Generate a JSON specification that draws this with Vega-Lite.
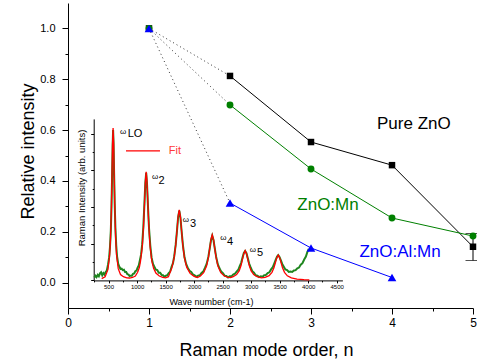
{
  "$schema": "https://vega.github.io/schema/vega-lite/v6.json",
  "width": 405,
  "height": 305,
  "autosize": {"type": "none"},
  "padding": {"left": 68, "top": 3, "right": 4, "bottom": 56},
  "config": {
    "font": "Liberation Sans",
    "view": {"stroke": null},
    "axis": {"grid": false, "domainColor": "#000", "tickColor": "#000", "labelColor": "#000", "titleColor": "#000", "titleFontWeight": "normal", "labelFlush": false, "labelOverlap": false, "domainWidth": 1, "tickWidth": 1},
    "legend": {"disable": true}
  },
  "datasets": {
    "points": [
      {"series": "Pure ZnO", "n": 1, "v": 1.0},
      {"series": "Pure ZnO", "n": 2, "v": 0.813},
      {"series": "Pure ZnO", "n": 3, "v": 0.553},
      {"series": "Pure ZnO", "n": 4, "v": 0.462},
      {"series": "Pure ZnO", "n": 5, "v": 0.141},
      {"series": "ZnO:Mn", "n": 1, "v": 1.0},
      {"series": "ZnO:Mn", "n": 2, "v": 0.699},
      {"series": "ZnO:Mn", "n": 3, "v": 0.447},
      {"series": "ZnO:Mn", "n": 4, "v": 0.254},
      {"series": "ZnO:Mn", "n": 5, "v": 0.183},
      {"series": "ZnO:Al:Mn", "n": 1, "v": 1.0},
      {"series": "ZnO:Al:Mn", "n": 2, "v": 0.313},
      {"series": "ZnO:Al:Mn", "n": 3, "v": 0.136},
      {"series": "ZnO:Al:Mn", "n": 4, "v": 0.02}
    ],
    "errbar": [{"n": 5, "v": 0.087, "v2": 0.193}],
    "labels": [
      {"label": "Pure ZnO", "series": "Pure ZnO", "n": 4.27, "v": 0.624},
      {"label": "ZnO:Mn", "series": "ZnO:Mn", "n": 3.21, "v": 0.305},
      {"label": "ZnO:Al:Mn", "series": "ZnO:Al:Mn", "n": 4.1, "v": 0.12}
    ],
    "green": [
      {"w": 250, "i": 0.08}, {"w": 270, "i": 0.13}, {"w": 290, "i": 0.09}, {"w": 310, "i": 0.15}, {"w": 330, "i": 0.11},
      {"w": 350, "i": 0.19}, {"w": 370, "i": 0.22}, {"w": 390, "i": 0.14}, {"w": 410, "i": 0.2}, {"w": 430, "i": 0.16},
      {"w": 450, "i": 0.23}, {"w": 470, "i": 0.27}, {"w": 490, "i": 0.42}, {"w": 510, "i": 0.62}, {"w": 525, "i": 0.9},
      {"w": 540, "i": 1.35}, {"w": 552, "i": 2.0}, {"w": 562, "i": 2.8}, {"w": 572, "i": 3.65}, {"w": 580, "i": 4.1},
      {"w": 588, "i": 3.75}, {"w": 598, "i": 2.9}, {"w": 608, "i": 2.1}, {"w": 620, "i": 1.45}, {"w": 635, "i": 0.95},
      {"w": 650, "i": 0.65}, {"w": 670, "i": 0.45}, {"w": 690, "i": 0.37}, {"w": 710, "i": 0.31}, {"w": 730, "i": 0.32},
      {"w": 750, "i": 0.28}, {"w": 770, "i": 0.29}, {"w": 790, "i": 0.23}, {"w": 810, "i": 0.23}, {"w": 830, "i": 0.17},
      {"w": 850, "i": 0.16}, {"w": 870, "i": 0.12}, {"w": 890, "i": 0.13}, {"w": 910, "i": 0.13}, {"w": 930, "i": 0.18},
      {"w": 950, "i": 0.19}, {"w": 970, "i": 0.25}, {"w": 990, "i": 0.27}, {"w": 1010, "i": 0.35}, {"w": 1030, "i": 0.41},
      {"w": 1050, "i": 0.55}, {"w": 1070, "i": 0.7}, {"w": 1090, "i": 0.98}, {"w": 1110, "i": 1.45}, {"w": 1128, "i": 2.05},
      {"w": 1145, "i": 2.65}, {"w": 1160, "i": 2.93}, {"w": 1175, "i": 2.62}, {"w": 1192, "i": 2.0}, {"w": 1210, "i": 1.42},
      {"w": 1232, "i": 0.95}, {"w": 1255, "i": 0.62}, {"w": 1280, "i": 0.45}, {"w": 1305, "i": 0.37}, {"w": 1330, "i": 0.29},
      {"w": 1355, "i": 0.28}, {"w": 1380, "i": 0.21}, {"w": 1405, "i": 0.21}, {"w": 1430, "i": 0.15}, {"w": 1455, "i": 0.14},
      {"w": 1480, "i": 0.1}, {"w": 1505, "i": 0.13}, {"w": 1530, "i": 0.14}, {"w": 1555, "i": 0.2}, {"w": 1580, "i": 0.24},
      {"w": 1605, "i": 0.37}, {"w": 1630, "i": 0.47}, {"w": 1652, "i": 0.66}, {"w": 1678, "i": 0.98}, {"w": 1700, "i": 1.35},
      {"w": 1720, "i": 1.72}, {"w": 1740, "i": 1.9}, {"w": 1760, "i": 1.72}, {"w": 1782, "i": 1.32}, {"w": 1805, "i": 0.95},
      {"w": 1832, "i": 0.63}, {"w": 1860, "i": 0.45}, {"w": 1890, "i": 0.34}, {"w": 1920, "i": 0.26}, {"w": 1950, "i": 0.23},
      {"w": 1980, "i": 0.16}, {"w": 2010, "i": 0.14}, {"w": 2040, "i": 0.1}, {"w": 2070, "i": 0.13}, {"w": 2100, "i": 0.14},
      {"w": 2130, "i": 0.2}, {"w": 2160, "i": 0.24}, {"w": 2190, "i": 0.34}, {"w": 2220, "i": 0.45}, {"w": 2250, "i": 0.64},
      {"w": 2275, "i": 0.88}, {"w": 2297, "i": 1.1}, {"w": 2318, "i": 1.22}, {"w": 2340, "i": 1.1}, {"w": 2362, "i": 0.88},
      {"w": 2387, "i": 0.64}, {"w": 2415, "i": 0.44}, {"w": 2445, "i": 0.33}, {"w": 2475, "i": 0.24}, {"w": 2505, "i": 0.2},
      {"w": 2535, "i": 0.13}, {"w": 2565, "i": 0.12}, {"w": 2595, "i": 0.08}, {"w": 2625, "i": 0.11}, {"w": 2655, "i": 0.11},
      {"w": 2685, "i": 0.16}, {"w": 2715, "i": 0.18}, {"w": 2745, "i": 0.24}, {"w": 2775, "i": 0.29}, {"w": 2800, "i": 0.39},
      {"w": 2825, "i": 0.48}, {"w": 2848, "i": 0.62}, {"w": 2872, "i": 0.75}, {"w": 2895, "i": 0.8}, {"w": 2918, "i": 0.74},
      {"w": 2942, "i": 0.6}, {"w": 2965, "i": 0.46}, {"w": 2990, "i": 0.36}, {"w": 3020, "i": 0.25}, {"w": 3050, "i": 0.21},
      {"w": 3080, "i": 0.14}, {"w": 3110, "i": 0.13}, {"w": 3140, "i": 0.09}, {"w": 3170, "i": 0.11}, {"w": 3200, "i": 0.1},
      {"w": 3230, "i": 0.14}, {"w": 3260, "i": 0.15}, {"w": 3290, "i": 0.2}, {"w": 3320, "i": 0.22}, {"w": 3350, "i": 0.3},
      {"w": 3380, "i": 0.36}, {"w": 3405, "i": 0.46}, {"w": 3430, "i": 0.56}, {"w": 3455, "i": 0.65}, {"w": 3475, "i": 0.69},
      {"w": 3497, "i": 0.64}, {"w": 3520, "i": 0.55}, {"w": 3545, "i": 0.45}, {"w": 3570, "i": 0.38}, {"w": 3600, "i": 0.3},
      {"w": 3630, "i": 0.28}, {"w": 3660, "i": 0.23}, {"w": 3690, "i": 0.24}, {"w": 3720, "i": 0.23}, {"w": 3750, "i": 0.27},
      {"w": 3780, "i": 0.28}, {"w": 3810, "i": 0.33}, {"w": 3840, "i": 0.35}, {"w": 3870, "i": 0.43}, {"w": 3900, "i": 0.47},
      {"w": 3930, "i": 0.57}, {"w": 3960, "i": 0.65}, {"w": 3985, "i": 0.77}, {"w": 4010, "i": 0.86}
    ],
    "fit": [
      {"w": 380, "i": 0.05}, {"w": 440, "i": 0.1}, {"w": 490, "i": 0.3}, {"w": 520, "i": 0.7}, {"w": 535, "i": 1.15},
      {"w": 550, "i": 1.95}, {"w": 560, "i": 2.8}, {"w": 570, "i": 3.7}, {"w": 580, "i": 4.15}, {"w": 590, "i": 3.7},
      {"w": 600, "i": 2.8}, {"w": 610, "i": 1.95}, {"w": 625, "i": 1.15}, {"w": 640, "i": 0.7}, {"w": 670, "i": 0.32},
      {"w": 710, "i": 0.16}, {"w": 760, "i": 0.1}, {"w": 820, "i": 0.07}, {"w": 870, "i": 0.065}, {"w": 920, "i": 0.08},
      {"w": 970, "i": 0.12}, {"w": 1010, "i": 0.22}, {"w": 1040, "i": 0.35}, {"w": 1060, "i": 0.52}, {"w": 1090, "i": 0.9},
      {"w": 1113, "i": 1.45}, {"w": 1130, "i": 2.08}, {"w": 1145, "i": 2.67}, {"w": 1160, "i": 2.96}, {"w": 1175, "i": 2.67},
      {"w": 1190, "i": 2.08}, {"w": 1207, "i": 1.45}, {"w": 1230, "i": 0.9}, {"w": 1260, "i": 0.52}, {"w": 1290, "i": 0.33},
      {"w": 1330, "i": 0.2}, {"w": 1390, "i": 0.12}, {"w": 1450, "i": 0.08}, {"w": 1500, "i": 0.07}, {"w": 1550, "i": 0.1},
      {"w": 1610, "i": 0.34}, {"w": 1650, "i": 0.62}, {"w": 1678, "i": 0.96}, {"w": 1700, "i": 1.36}, {"w": 1720, "i": 1.74},
      {"w": 1740, "i": 1.92}, {"w": 1760, "i": 1.74}, {"w": 1780, "i": 1.36}, {"w": 1802, "i": 0.96}, {"w": 1830, "i": 0.62},
      {"w": 1870, "i": 0.36}, {"w": 1930, "i": 0.19}, {"w": 2000, "i": 0.11}, {"w": 2060, "i": 0.08}, {"w": 2110, "i": 0.12},
      {"w": 2168, "i": 0.21}, {"w": 2218, "i": 0.39}, {"w": 2250, "i": 0.62}, {"w": 2273, "i": 0.86}, {"w": 2293, "i": 1.09},
      {"w": 2318, "i": 1.24}, {"w": 2343, "i": 1.09}, {"w": 2363, "i": 0.86}, {"w": 2386, "i": 0.62}, {"w": 2418, "i": 0.39},
      {"w": 2468, "i": 0.21}, {"w": 2530, "i": 0.12}, {"w": 2600, "i": 0.08}, {"w": 2640, "i": 0.075}, {"w": 2685, "i": 0.1},
      {"w": 2745, "i": 0.16}, {"w": 2790, "i": 0.26}, {"w": 2823, "i": 0.405}, {"w": 2845, "i": 0.55}, {"w": 2870, "i": 0.72},
      {"w": 2895, "i": 0.81}, {"w": 2920, "i": 0.72}, {"w": 2945, "i": 0.55}, {"w": 2967, "i": 0.405}, {"w": 3000, "i": 0.26},
      {"w": 3045, "i": 0.16}, {"w": 3105, "i": 0.1}, {"w": 3180, "i": 0.07}, {"w": 3245, "i": 0.08}, {"w": 3315, "i": 0.13},
      {"w": 3365, "i": 0.22}, {"w": 3400, "i": 0.345}, {"w": 3425, "i": 0.48}, {"w": 3450, "i": 0.62}, {"w": 3475, "i": 0.69},
      {"w": 3500, "i": 0.62}, {"w": 3525, "i": 0.48}, {"w": 3550, "i": 0.345}, {"w": 3585, "i": 0.22}, {"w": 3635, "i": 0.124},
      {"w": 3705, "i": 0.07}, {"w": 3805, "i": 0.035}, {"w": 3925, "i": 0.02}, {"w": 4020, "i": 0.012}
    ],
    "omegas": [
      {"t": "ω", "w": 754, "i": 4.04},
      {"t": "ω", "w": 1315, "i": 2.82},
      {"t": "ω", "w": 1858, "i": 1.65},
      {"t": "ω", "w": 2512, "i": 1.155},
      {"t": "ω", "w": 3032, "i": 0.84}
    ],
    "subs": [
      {"t": "LO", "w": 964, "i": 3.98},
      {"t": "2", "w": 1429, "i": 2.71},
      {"t": "3", "w": 1981, "i": 1.53},
      {"t": "4", "w": 2629, "i": 1.05},
      {"t": "5", "w": 3155, "i": 0.75}
    ],
    "fitkey": [{"t": "Fit", "w": 806, "w2": 1402, "wt": 1665, "i": 3.53}]
  },
  "resolve": {"scale": {"x": "independent", "y": "independent"}, "axis": {"x": "independent", "y": "independent"}},
  "layer": [
    {
      "data": {"name": "green"},
      "mark": {"type": "point", "opacity": 0},
      "encoding": {
        "x": {"field": "w", "type": "quantitative", "scale": {"domain": [240, 4600], "range": [25.7, 274.4], "nice": false, "zero": false},
              "axis": {"orient": "bottom", "offset": -27.6, "values": [250, 750, 1250, 1750, 2250, 2750, 3250, 3750, 4250], "labels": false, "domain": false, "tickSize": 1.5, "title": null}},
        "y": {"field": "i", "type": "quantitative", "scale": {"domain": [0, 4.4], "range": [277.4, 115.9], "nice": false, "zero": false},
              "axis": {"orient": "left", "offset": -25.7, "values": [0.5, 1.5, 2.5, 3.5], "labels": false, "domain": false, "tickSize": 1.5, "title": null}}
      }
    },
    {
      "encoding": {
        "x": {"field": "w", "type": "quantitative", "scale": {"domain": [240, 4600], "range": [25.7, 274.4], "nice": false, "zero": false},
              "axis": {"orient": "bottom", "offset": -27.6, "values": [500, 1000, 1500, 2000, 2500, 3000, 3500, 4000, 4500], "format": "d", "labelFontSize": 6, "tickSize": 2.5, "labelPadding": 1,
                       "title": "Wave number (cm-1)", "titleFontSize": 9, "titleX": 143, "titleY": 21, "titleAlign": "center", "titleBaseline": "middle"}},
        "y": {"field": "i", "type": "quantitative", "scale": {"domain": [0, 4.4], "range": [277.4, 115.9], "nice": false, "zero": false},
              "axis": {"orient": "left", "offset": -25.7, "values": [0, 1, 2, 3, 4], "labels": false, "tickSize": 3,
                       "title": "Raman Intensity (arb. units)", "titleFontSize": 9.5, "titleX": -12.7, "titleY": 184.5, "titleAngle": -90, "titleAlign": "center", "titleBaseline": "middle"}}
      },
      "layer": [
        {"data": {"name": "green"}, "mark": {"type": "line", "color": "#1f861f", "strokeWidth": 2}},
        {"data": {"name": "fit"}, "mark": {"type": "line", "color": "#ff0000", "strokeWidth": 1.3}},
        {"data": {"name": "fitkey"}, "mark": {"type": "rule", "color": "#ff0000", "strokeWidth": 1.2}, "encoding": {"x2": {"field": "w2"}}},
        {"data": {"name": "fitkey"}, "mark": {"type": "text", "color": "#ff3a3a", "fontSize": 11, "align": "center", "baseline": "middle"},
         "encoding": {"x": {"field": "wt", "type": "quantitative"}, "text": {"field": "t"}}},
        {"data": {"name": "omegas"}, "mark": {"type": "text", "color": "#000", "fontSize": 8, "align": "center", "baseline": "middle"}, "encoding": {"text": {"field": "t"}}},
        {"data": {"name": "subs"}, "mark": {"type": "text", "color": "#000", "fontSize": 11, "align": "center", "baseline": "middle"}, "encoding": {"text": {"field": "t"}}}
      ]
    },
    {
      "data": {"name": "points"},
      "mark": {"type": "point", "opacity": 0},
      "encoding": {
        "x": {"field": "n", "type": "quantitative", "scale": {"domain": [0, 5], "nice": false, "zero": false},
              "axis": {"orient": "bottom", "values": [0.5, 1.5, 2.5, 3.5, 4.5], "labels": false, "domain": false, "tickSize": 3, "title": null}},
        "y": {"field": "v", "type": "quantitative", "scale": {"domain": [-0.1, 1.1], "nice": false, "zero": false},
              "axis": {"orient": "left", "values": [0.1, 0.3, 0.5, 0.7, 0.9], "labels": false, "domain": false, "tickSize": 3, "title": null}}
      }
    },
    {
      "data": {"name": "points"},
      "encoding": {
        "x": {"field": "n", "type": "quantitative", "scale": {"domain": [0, 5], "nice": false, "zero": false},
              "axis": {"orient": "bottom", "values": [0, 1, 2, 3, 4, 5], "format": "d", "labelFontSize": 12, "tickSize": 6, "labelPadding": 3,
                       "title": "Raman mode order, n", "titleFontSize": 18, "titleX": 198, "titleY": 42, "titleAlign": "center", "titleBaseline": "middle"}},
        "y": {"field": "v", "type": "quantitative", "scale": {"domain": [-0.1, 1.1], "nice": false, "zero": false},
              "axis": {"orient": "left", "values": [0, 0.2, 0.4, 0.6, 0.8, 1.0], "format": ".1f", "labelFontSize": 11, "tickSize": 6, "labelPadding": 7,
                       "title": "Relative intensity", "titleFontSize": 18, "titleX": -40, "titleY": 148, "titleAngle": -90, "titleAlign": "center", "titleBaseline": "middle"}}
      },
      "layer": [
        {"transform": [{"filter": "datum.n <= 2"}], "mark": {"type": "line", "color": "#333333", "strokeWidth": 1, "strokeDash": [1, 3]},
         "encoding": {"detail": {"field": "series"}}},
        {"transform": [{"filter": "datum.n >= 2"}], "mark": {"type": "line", "strokeWidth": 1},
         "encoding": {"color": {"field": "series", "type": "nominal", "scale": {"domain": ["Pure ZnO", "ZnO:Mn", "ZnO:Al:Mn"], "range": ["#000000", "#008000", "#0000ff"]}}}},
        {"data": {"name": "errbar"}, "mark": {"type": "errorbar", "color": "#000", "ticks": {"size": 15, "color": "#000"}},
         "encoding": {"y2": {"field": "v2"}}},
        {"transform": [{"filter": "datum.series == 'Pure ZnO'"}], "mark": {"type": "point", "shape": "square", "filled": true, "opacity": 1, "size": 42, "color": "#000000"}},
        {"transform": [{"filter": "datum.series == 'ZnO:Mn'"}], "mark": {"type": "point", "shape": "circle", "filled": true, "opacity": 1, "size": 48, "color": "#008000"}},
        {"transform": [{"filter": "datum.series == 'ZnO:Al:Mn'"}], "mark": {"type": "point", "shape": "triangle-up", "filled": true, "opacity": 1, "size": 75, "color": "#0000ff"}},
        {"data": {"name": "labels"}, "mark": {"type": "text", "fontSize": 17, "align": "center", "baseline": "middle"},
         "encoding": {"text": {"field": "label"},
           "color": {"field": "series", "type": "nominal", "scale": {"domain": ["Pure ZnO", "ZnO:Mn", "ZnO:Al:Mn"], "range": ["#000000", "#008000", "#0000ff"]}}}}
      ]
    }
  ]
}
